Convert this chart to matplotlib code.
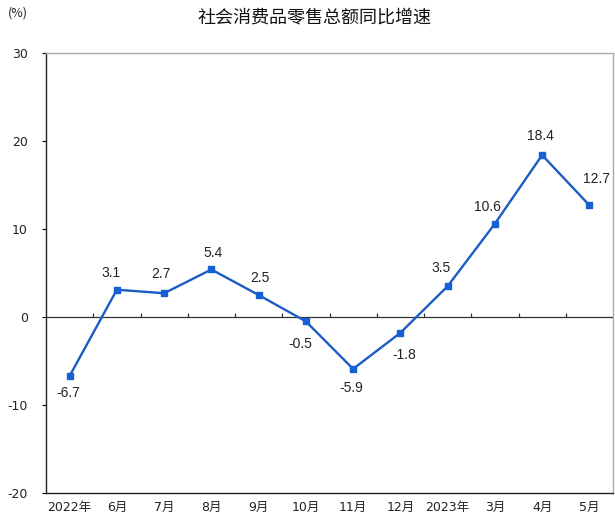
import matplotlib
matplotlib.use("Agg")
import matplotlib.pyplot as plt
import numpy as np

categories = ["2022年", "6月", "7月", "8月", "9月", "10月", "11月", "12月", "2023年", "3月", "4月", "5月"]
values = [-6.7, 3.1, 2.7, 5.4, 2.5, -0.5, -5.9, -1.8, 3.5, 10.6, 18.4, 12.7]
yticks = [-20, -10, 0, 10, 20, 30]
title = "社会消费品零售总额同比增速"
unit = "(%)"
# label offsets (points)
label_offsets = [(-1, -12), (-4, 12), (-2, 14), (1, 12), (1, 12), (-4, -16),
                 (-1, -14), (3, -16), (-5, 13), (-5, 12), (-1, 14), (5, 19)]

fam = ["DejaVu Sans", "Noto Sans CJK SC"]
fig = plt.figure(figsize=(6.15, 5.2), dpi=100)
ax = fig.add_axes([46/615, 27/520, 567/615, 440/520])

x = np.arange(len(categories))
color = "#1a5cc4"
ax.plot(x, values, color=color, lw=1.7, marker="s", markersize=5,
        markerfacecolor="#1560d4", markeredgecolor="#1560d4", zorder=3)

for xi, v, (dx, dy) in zip(x, values, label_offsets):
    ax.annotate(f"{v}", (xi, v), xytext=(dx, dy), textcoords="offset points",
                ha="center", va="center", fontsize=10, family="Liberation Sans",
                color="#222222")

ax.axhline(0, color="#333333", lw=0.9, zorder=2)
ax.vlines(x[1:] - 0.5, 0, 0.4, color="#333333", lw=0.9, zorder=2)

ax.set_xlim(-0.5, len(categories) - 0.5)
ax.set_ylim(yticks[0], yticks[-1])
ax.set_yticks(yticks)
ax.set_yticklabels([str(t) for t in yticks], family=fam, fontsize=9, color="#222222")
ax.set_xticks(x)
ax.set_xticklabels(categories, family=fam, fontsize=9, color="#222222")
ax.tick_params(axis="x", length=0, pad=6)
ax.tick_params(axis="y", length=3, pad=10, direction="out", width=0.8)

for s in ["left", "bottom"]:
    ax.spines[s].set_color("#222222")
    ax.spines[s].set_linewidth(1.0)
for s in ["top", "right"]:
    ax.spines[s].set_color("#aaaaaa")
    ax.spines[s].set_linewidth(1.0)

fig.text(315/615, 1 - 17/520, title, ha="center", va="center", fontsize=13,
         family=["Noto Sans CJK SC", "DejaVu Sans"], color="#111111")
fig.text(18/615, 1 - 13/520, unit, ha="center", va="center", fontsize=9,
         family=["Noto Sans CJK SC", "DejaVu Sans"], color="#222222")

fig.savefig("out.png", dpi=100, facecolor="white")
